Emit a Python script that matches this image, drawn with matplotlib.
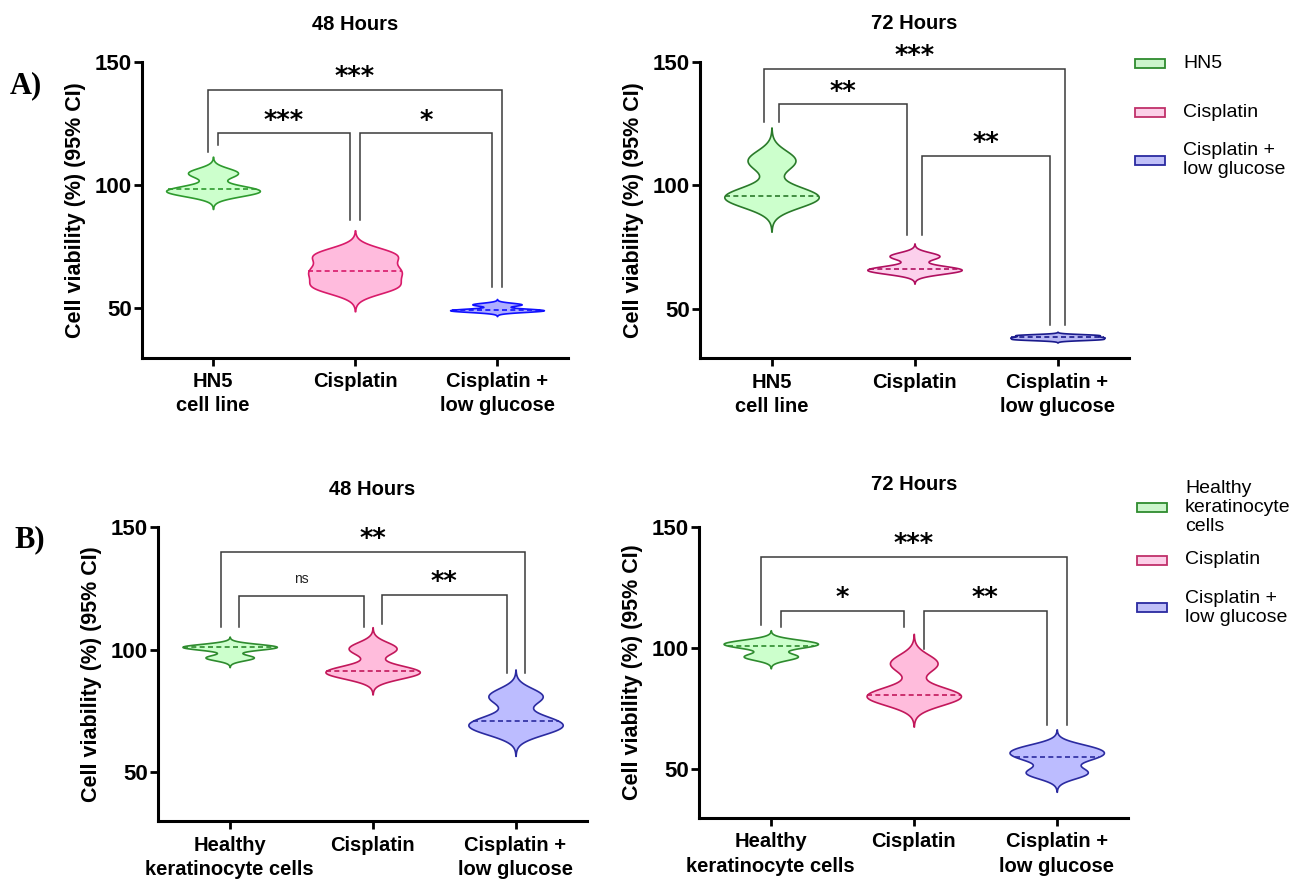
import numpy as np
import matplotlib
matplotlib.use("Agg")
import matplotlib.pyplot as plt
from matplotlib.patches import Rectangle
from matplotlib import font_manager

# ---------------- data ----------------
CATS_A = ["HN5\ncell line", "Cisplatin", "Cisplatin +\nlow glucose"]
CATS_B = ["Healthy\nkeratinocyte cells", "Cisplatin", "Cisplatin +\nlow glucose"]
LEGEND_A = ["HN5", "Cisplatin", "Cisplatin +\nlow glucose"]
LEGEND_B = ["Healthy\nkeratinocyte\ncells", "Cisplatin", "Cisplatin +\nlow glucose"]
TITLES = ["48 Hours", "72 Hours", "48 Hours", "72 Hours"]
Y_TICKS = [50, 100, 150]

A48_HN5 = [97.0, 98.4, 105.0]
A48_CIS = [58.8, 65.0, 71.7]
A48_LOWGLU = [49.0, 49.4, 51.6]
A72_HN5 = [94.5, 95.8, 110.0]
A72_CIS = [65.2, 66.2, 71.3]
A72_LOWGLU = [37.6, 38.4, 39.3]
B48_HEALTHY = [96.8, 100.9, 101.4]
B48_CIS = [90.4, 91.3, 100.5]
B48_LOWGLU = [67.5, 70.9, 81.0]
B72_HEALTHY = [96.6, 101.1, 102.6]
B72_CIS = [79.8, 80.7, 93.8]
B72_LOWGLU = [48.6, 55.2, 58.6]

# comparisons: (group i, group j, label, bracket level, left leg end, right leg end)
SIG_A48 = [(0, 1, "***", 121.1, 116.4, 85.9), (1, 2, "*", 121.1, 85.9, 58.8), (0, 2, "***", 138.7, 113.7, 58.8)]
SIG_A72 = [(0, 1, "**", 132.7, 125.7, 79.7), (1, 2, "**", 111.8, 79.7, 43.2), (0, 2, "***", 147.0, 125.7, 43.2)]
SIG_B48 = [(0, 1, "ns", 122.0, 109.3, 109.3), (1, 2, "**", 122.2, 110.3, 90.3), (0, 2, "**", 140.0, 109.3, 90.3)]
SIG_B72 = [(0, 1, "*", 115.5, 108.7, 108.7), (1, 2, "**", 115.5, 99.6, 68.3), (0, 2, "***", 137.6, 109.6, 68.3)]

# ---------------- style ----------------
W, H = 1308, 882
fig = plt.figure(figsize=(W / 100, H / 100), dpi=100)
SANS = ["Liberation Sans", "DejaVu Sans"]
plt.rcParams["font.family"] = SANS

_names = {f.name for f in font_manager.fontManager.ttflist}
if "Liberation Sans Narrow" in _names:
    XT_FAMILY, XT_SIZE = ["Liberation Sans Narrow", "Liberation Sans"], 16.5
else:
    XT_FAMILY, XT_SIZE = SANS, 14.5

def fx(x):
    return x / W

def fy(y):
    return 1 - y / H

EDGE_A48 = ["#2e9a2e", "#d81b6a", "#1010ff"]
FILL_A48 = ["#ccffcc", "#ffbbdd", "#aeaeff"]
EDGE_A72 = ["#2a7a2a", "#b01060", "#1a1a8c"]
FILL_A72 = ["#ccffcc", "#fcd0ec", "#b8b8f4"]
EDGE_B = ["#2e8b2e", "#c2185b", "#2b2ba0"]
FILL_B = ["#ccffcc", "#ffbcdc", "#bcbcff"]

BW = 0.47      # kernel bandwidth as fraction of SD
CUT = 3.3      # tail extent in bandwidths
HALF_W = 0.33  # max half width of a violin

def violin(ax, i, vals, edge, fill):
    vals = np.asarray(vals, float)
    h = BW * np.std(vals, ddof=1)
    yy = np.linspace(vals.min() - CUT * h, vals.max() + CUT * h, 600)
    dens = np.exp(-0.5 * ((yy[:, None] - vals[None, :]) / h) ** 2).sum(axis=1)
    dens = dens / dens.max() * HALF_W
    ax.fill_betweenx(yy, i - dens, i + dens, facecolor=fill, edgecolor=edge,
                     lw=1.2, zorder=3)
    med = np.median(vals)
    wm = np.interp(med, yy, dens)
    ax.plot([i - wm, i + wm], [med, med], color=edge, lw=1.2,
            dashes=(3, 2), zorder=4)

def brackets(ax, comps, off):
    for (i, j, lab, lvl, yl, yr) in comps:
        if j - i == 2:
            xl, xr = i - off, j + off
        else:
            xl, xr = i + off, j - off
        ax.plot([xl, xl, xr, xr], [yl, lvl, lvl, yr], color="#3a3a3a",
                lw=1.1, clip_on=False, zorder=2, solid_joinstyle="miter")
        xm = (xl + xr) / 2
        if lab == "ns":
            ax.annotate(lab, (xm, lvl), xytext=(0, 9.3), textcoords="offset points",
                        ha="center", va="baseline", fontsize=10, color="#222222",
                        family=XT_FAMILY, annotation_clip=False)
        else:
            ax.annotate(lab, (xm, lvl), xytext=(0, 3.5), textcoords="offset points",
                        ha="center", va="baseline", fontsize=18.5, fontweight="bold",
                        family=["DejaVu Sans"], annotation_clip=False)

def panel(rect, groups, edges, fills, cats, comps, title, title_pad, off):
    l, t, r, b = rect
    ax = fig.add_axes([fx(l), fy(b), fx(r) - fx(l), fy(t) - fy(b)])
    for i, vals in enumerate(groups):
        violin(ax, i, vals, edges[i], fills[i])
    brackets(ax, comps, off)
    ax.set_xlim(-0.5, 2.5)
    ax.set_ylim(30, 150)
    ax.set_yticks(Y_TICKS)
    ax.set_xticks(range(len(cats)))
    ax.set_xticklabels(cats, fontsize=XT_SIZE, fontweight="bold", family=XT_FAMILY,
                       linespacing=1.35)
    for lab in ax.get_yticklabels():
        lab.set_fontsize(16)
        lab.set_fontweight("bold")
    ax.tick_params(axis="both", length=6, width=2, direction="out")
    ax.tick_params(axis="y", pad=1.5)
    ax.tick_params(axis="x", pad=4.5)
    for s in ["top", "right"]:
        ax.spines[s].set_visible(False)
    for s in ["left", "bottom"]:
        ax.spines[s].set_linewidth(2.2)
    ax.set_ylabel("Cell viability (%) (95% CI)", fontsize=15.5, fontweight="bold")
    ax.yaxis.set_label_coords(-0.131, 0.5)
    ax.set_title(title, fontsize=14.5, fontweight="bold", pad=title_pad)
    return ax

panel((142, 62.3, 568, 357.5), [A48_HN5, A48_CIS, A48_LOWGLU], EDGE_A48, FILL_A48,
      CATS_A, SIG_A48, TITLES[0], 23.5, 0.033)
panel((700, 61.7, 1129, 358.0), [A72_HN5, A72_CIS, A72_LOWGLU], EDGE_A72, FILL_A72,
      CATS_A, SIG_A72, TITLES[1], 23.5, 0.055)
panel((158.2, 527.3, 587, 821.0), [B48_HEALTHY, B48_CIS, B48_LOWGLU], EDGE_B, FILL_B,
      CATS_B, SIG_B48, TITLES[2], 23.0, 0.063)
panel((699.3, 527.3, 1128.2, 817.7), [B72_HEALTHY, B72_CIS, B72_LOWGLU], EDGE_B, FILL_B,
      CATS_B, SIG_B72, TITLES[3], 26.6, 0.07)

# panel letters
SERIF = ["Liberation Serif", "DejaVu Serif"]
fig.text(fx(10), fy(86), "A)", fontsize=22, fontweight="bold", family=SERIF,
         ha="left", va="center")
fig.text(fx(14), fy(540), "B)", fontsize=22, fontweight="bold", family=SERIF,
         ha="left", va="center")

# legends
LEG_EDGE = ["#2e8b2e", "#c0306a", "#2a2aa0"]
LEG_FILL = ["#ccf5cc", "#fcd0e8", "#c0c0f8"]

def legend(labels, ys, xpatch=1135, xtext=1183):
    for k, (lab, y) in enumerate(zip(labels, ys)):
        fig.patches.append(Rectangle((fx(xpatch), fy(y + 4.5)), fx(30), 9 / H,
                                     transform=fig.transFigure, facecolor=LEG_FILL[k],
                                     edgecolor=LEG_EDGE[k], lw=1.3))
        fig.text(fx(xtext), fy(y), lab, fontsize=14, ha="left", va="center",
                 linespacing=1.15)

legend(LEGEND_A, [63.3, 112.7, 160.0])
legend(LEGEND_B, [507.3, 560.0, 607.7], xpatch=1137, xtext=1185)

fig.savefig("out.png", dpi=100)
